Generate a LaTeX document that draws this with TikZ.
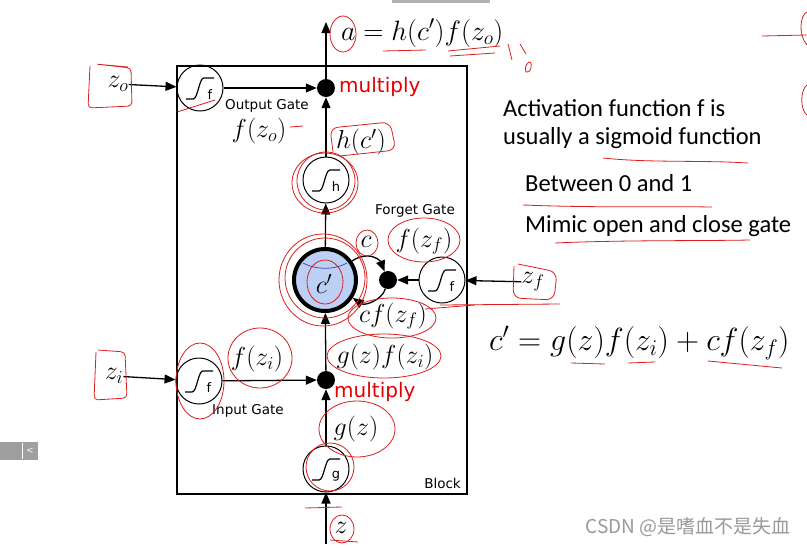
\documentclass[tikz,border=0pt]{standalone}
\usepackage{fix-cm}
\usepackage{fontspec}
\usetikzlibrary{arrows.meta}
\newfontfamily\dejavu{DejaVu Sans}
\newfontfamily\carlito{Carlito}
\newfontfamily\cjkfont{Noto Sans CJK SC}
\definecolor{inkred}{RGB}{220,30,30}
\definecolor{cellblue}{RGB}{188,208,245}
\tikzset{
  gate/.style={circle, draw, line width=1pt, minimum size=46pt, inner sep=0pt},
  bigdot/.style={circle, fill=black, minimum size=18pt, inner sep=0pt},
  arr/.style={-{Triangle[length=11pt,width=9pt]}, line width=1.3pt},
  mlab/.style={font=\fontsize{26}{28}\selectfont, inner sep=0pt},
  slab/.style={font=\dejavu\fontsize{13.5}{15}\selectfont, inner sep=0pt},
  redlab/.style={font=\dejavu\fontsize{20}{22}\selectfont, text=red!90!black, inner sep=0pt, anchor=west},
  rtext/.style={font=\carlito\fontsize{24.5}{26}\selectfont, inner sep=0pt, anchor=west},
  scr/.style={draw=inkred, line width=0.8pt},
  sigsym/.pic={
    \draw[line width=1.2pt] (-14,11) -- (-7,11) .. controls (-2,11) and (-1,-10) .. (4,-10) -- (14,-10);
    \node[font=\dejavu\fontsize{13}{14}\selectfont, inner sep=0pt] at (10,7) {#1};
  }
}
\begin{document}
\begin{tikzpicture}[x=1pt, y=-1pt]
\useasboundingbox (0,0) rectangle (807,547);
\fill[white] (0,0) rectangle (807,547);
% top gray strip and side widget
\fill[gray!60] (392,0) rectangle (490,3);
\fill[gray!75] (0,442) rectangle (38,460);
\draw[white, line width=0.6pt] (22,443) -- (22,459);
\node[text=white, font=\dejavu\fontsize{9}{9}\selectfont, inner sep=0pt] (tabarrow) at (30,451) {<};

% block
\node[draw, line width=1.5pt, minimum width=290pt, minimum height=428pt, anchor=north west, inner sep=0pt] (block) at (176,65) {};
\node[slab, anchor=east] (blocklab) at (461,483) {Block};

% nodes
\node[gate] (og) at (200,88) {};
\node[gate] (hg) at (326,180) {};
\node[gate] (fg) at (442,280) {};
\node[gate] (ig) at (199,381) {};
\node[gate] (gg) at (326,469) {};
\pic at (og) {sigsym=f};
\pic at (hg) {sigsym=h};
\pic at (fg) {sigsym=f};
\pic at (ig) {sigsym=f};
\pic at (gg) {sigsym=g};

\node[bigdot] (od) at (326,88) {};
\node[bigdot] (fd) at (388,280) {};
\node[bigdot] (id) at (326,380) {};

\node[circle, draw=black, line width=4pt, fill=cellblue, minimum size=62pt, inner sep=0pt] (cell) at (325,280) {};
\draw[draw=blue!40!gray, line width=0.8pt] (303,263) .. controls (315,270) and (335,270) .. (347,263);
\node[mlab] (cp) at (324,284) {$c'$};

% inputs
\node[mlab] (zo) at (118,84) {$z_o$};
\node[mlab] (zi) at (114,376) {$z_i$};
\node[mlab] (zf) at (533,282) {$z_f$};
\node[mlab] (z) at (341,528) {$z$};
\coordinate (top) at (326,22);
\coordinate (zbot) at (326,544);

% arrows
\draw[arr] (zo) -- (og);
\draw[arr] (og) -- (od);
\draw[arr] (hg) -- (od);
\draw[arr] (od) -- (top);
\draw[arr] (cell) -- (hg);
\draw[arr] (zf) -- (fg);
\draw[arr] (fg) -- (fd);
\draw[arr] (cell.35) .. controls (368,250) and (380,260) .. (fd);
\draw[arr] (fd) .. controls (382,300) and (365,306) .. (cell);
\draw[arr] (id) -- (cell);
\draw[arr] (zi) -- (ig);
\draw[arr] (ig) -- (id);
\draw[arr] (gg) -- (id);
\draw[arr] (zbot) -- (gg);

% labels
\node[redlab] (m1) at (339,87) {multiply};
\node[redlab] (m2) at (334,392) {multiply};
\node[slab] (ogl) at (267,106) {Output Gate};
\node[slab] (fgl) at (415,211) {Forget Gate};
\node[slab] (igl) at (248,411) {Input Gate};
\node[mlab] (fzo) at (259,131) {$f(z_o)$};
\node[mlab] (hc) at (361,142) {$h(c')$};
\node[mlab] (cl) at (366,242) {$c$};
\node[mlab] (fzf) at (424,241) {$f(z_f)$};
\node[mlab] (cfzf) at (393,316) {$cf(z_f)$};
\node[mlab] (fzi) at (257,359) {$f(z_i)$};
\node[mlab] (gzfzi) at (385,357) {$g(z)f(z_i)$};
\node[mlab] (gz) at (356,429) {$g(z)$};
\node[mlab, anchor=west, font=\fontsize{28}{30}\selectfont] (aeq) at (341,33) {$a=h(c')f(z_o)$};

% right text
\node[rtext] (t1) at (503,108) {Activation function f is};
\node[rtext] (t2) at (503,138) {usually a sigmoid function};
\node[rtext] (t3) at (525,183) {Between 0 and 1};
\node[rtext] (t4) at (525,226) {Mimic open and close gate};
\node[mlab, anchor=west, font=\fontsize{32}{34}\selectfont] (ceq) at (489,343) {$c'=g(z)f(z_i)+cf(z_f)$};

% watermark
\node[font=\cjkfont\fontsize{19}{20}\selectfont, text=gray!80, anchor=east, inner sep=0pt] (wm) at (791,527) {CSDN @是嗜血不是失血};

% red annotations
\draw[scr, rounded corners=4pt] (90,66) -- (88,108) -- (132,106) -- (131,68) -- (95,64) -- (128,67);
\draw[scr] (343,34) ellipse (13pt and 18pt);
\draw[scr] (383,51) -- (426,50);
\draw[scr] (448,51) -- (500,46);
\draw[scr] (450,56) -- (495,53);
\draw[scr] (508,44) -- (512,60);
\draw[scr] (520,44) -- (526,54);
\draw[scr] (529,62) .. controls (534,62) and (530,75) .. (526,72) .. controls (524,68) and (527,63) .. (529,62);
\draw[scr] (177,112) -- (215,100);
\draw[scr] (290,127) -- (303,126);
\draw[scr, rounded corners=8pt] (333,152) -- (330,128) -- (390,122) -- (396,150) -- (340,156);
\draw[scr] (326,181) circle (29pt);
\draw[scr] (325,183) ellipse (33pt and 30pt);
\draw[scr] (367,243) ellipse (11pt and 13pt);
\draw[scr] (424,240) ellipse (36pt and 22pt);
\draw[scr] (325,278) circle (40pt);
\draw[scr] (323,280) ellipse (44pt and 46pt);
\draw[scr] (325,282) ellipse (18pt and 22pt);
\draw[scr] (392,318) ellipse (44pt and 20pt);
\draw[scr] (425,309) -- (475,305);
\draw[scr, rounded corners=8pt] (514,266) -- (513,298) -- (554,300) -- (557,272) -- (518,264);
\draw[scr] (440,305) -- (560,304);
\draw[scr, rounded corners=4pt] (96,352) -- (94,400) -- (127,398) -- (125,352) -- (98,350);
\draw[scr] (260,358) ellipse (32pt and 30pt);
\draw[scr] (200,381) ellipse (24pt and 38pt);
\draw[scr] (384,356) ellipse (57pt and 22pt);
\draw[scr] (357,429) ellipse (38pt and 28pt);
\draw[scr] (330,467) circle (24pt);
\draw[scr] (342,529) ellipse (12pt and 14pt);
\draw[scr] (305,508) -- (342,507);
\draw[scr] (330,540) -- (358,542);
\draw[scr] (603,158) .. controls (650,163) and (700,160) .. (748,163);
\draw[scr] (523,205) .. controls (600,208) and (650,206) .. (712,207);
\draw[scr] (555,243) .. controls (620,240) and (700,241) .. (750,240);
\draw[scr] (571,363) -- (605,364);
\draw[scr] (628,363) -- (655,362);
\draw[scr] (708,361) .. controls (740,364) and (760,366) .. (782,368);
\draw[scr] (762,36) -- (807,35);
\draw[scr] (807,12) .. controls (800,15) and (798,35) .. (807,45);
\draw[scr] (807,85) .. controls (800,90) and (800,110) .. (807,115);
\end{tikzpicture}
\end{document}
